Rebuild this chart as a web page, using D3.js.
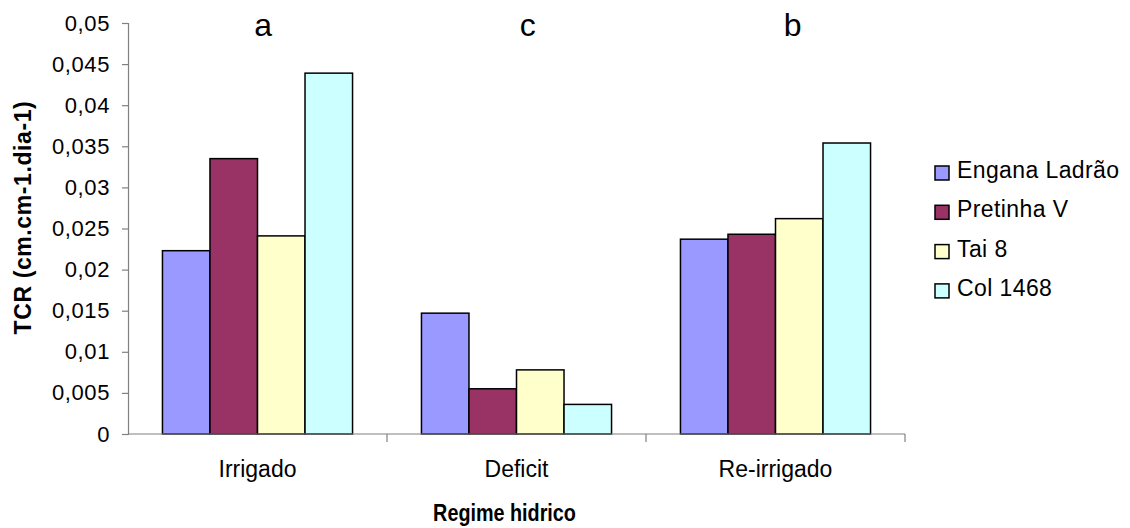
<!DOCTYPE html>
<html>
<head>
<meta charset="utf-8">
<script src="https://cdn.jsdelivr.net/npm/d3@7"></script>
<style>
  html, body { margin: 0; padding: 0; background: #fff; }
  svg { display: block; font-family: Arial, "Liberation Sans", sans-serif; }
</style>
</head>
<body>
<svg id="chart" width="1130" height="528"></svg>
<script>
// ---- data ----
const categories = ["Irrigado", "Deficit", "Re-irrigado"];
const seriesNames = ["Engana Ladrão", "Pretinha V", "Tai 8", "Col 1468"];
const englanaLadrao = [0.0223, 0.0147, 0.0237];
const pretinhaV     = [0.0335, 0.0055, 0.0243];
const tai8          = [0.0241, 0.0078, 0.0262];
const col1468       = [0.0439, 0.0036, 0.0354];
const groupLetters  = ["a", "c", "b"];
const yTicks = [0, 0.005, 0.01, 0.015, 0.02, 0.025, 0.03, 0.035, 0.04, 0.045, 0.05];
const seriesColors = ["#9999FF", "#993366", "#FFFFCC", "#CCFFFF"];

const seriesValues = [englanaLadrao, pretinhaV, tai8, col1468];

// ---- layout ----
const svg = d3.select("#chart");
const margin = { left: 128, right: 225, top: 23, bottom: 94 };
const W = 1130, H = 528;
const plotW = W - margin.left - margin.right;
const plotH = H - margin.top - margin.bottom;

const g = svg.append("g").attr("transform", `translate(${margin.left},${margin.top})`);

const y = d3.scaleLinear().domain([0, 0.05]).range([plotH, 0]);
const x0 = d3.scaleBand().domain(categories).range([0, plotW]).paddingInner(0).paddingOuter(0);
// Excel-like gap width (~145% of bar width)
const gapRatio = 1.45;
const barW = x0.bandwidth() / (seriesNames.length + gapRatio);
const gap = barW * gapRatio;
const x1 = d3.scaleBand().domain(seriesNames).range([gap / 2, x0.bandwidth() - gap / 2]).padding(0);

const fmt = d => String(+d.toFixed(3)).replace(".", ",");

// bars
const groups = g.selectAll("g.cat").data(categories).join("g")
  .attr("class", "cat")
  .attr("transform", d => `translate(${x0(d)},0)`);

groups.selectAll("rect").data((c, ci) => seriesNames.map((s, si) => ({ s, si, v: seriesValues[si][ci] })))
  .join("rect")
  .attr("x", d => x1(d.s))
  .attr("width", x1.bandwidth())
  .attr("y", d => y(d.v))
  .attr("height", d => y(0) - y(d.v))
  .attr("fill", d => seriesColors[d.si])
  .attr("stroke", "#000")
  .attr("stroke-width", 1.5);

// y axis
const yAxis = g.append("g")
  .call(d3.axisLeft(y).tickValues(yTicks).tickFormat(fmt).tickSize(6).tickPadding(12));
yAxis.select(".domain").attr("stroke", "#808080").attr("stroke-width", 1.2);
yAxis.selectAll(".tick line").attr("stroke", "#808080").attr("stroke-width", 1.2);
yAxis.selectAll(".tick text").attr("font-size", 22).attr("fill", "#000")
  .attr("font-family", "Arial, 'Liberation Sans', sans-serif").attr("letter-spacing", 0.6);

// x axis (ticks at category boundaries)
const xAxisG = g.append("g").attr("transform", `translate(0,${plotH})`);
xAxisG.append("line").attr("x1", 0).attr("x2", plotW).attr("y1", 0).attr("y2", 0)
  .attr("stroke", "#808080").attr("stroke-width", 1.2);
const boundaries = categories.map(c => x0(c)).concat([x0(categories[categories.length - 1]) + x0.bandwidth()]);
xAxisG.selectAll("line.bt").data(boundaries.slice(1)).join("line")
  .attr("class", "bt")
  .attr("x1", d => d).attr("x2", d => d).attr("y1", 0).attr("y2", 8)
  .attr("stroke", "#808080").attr("stroke-width", 1.2);
xAxisG.selectAll("text.cl").data(categories).join("text")
  .attr("class", "cl")
  .attr("x", d => x0(d) + x0.bandwidth() / 2)
  .attr("y", 43)
  .attr("text-anchor", "middle")
  .attr("font-size", 23)
  .text(d => d);

// group letters
g.selectAll("text.gl").data(categories).join("text")
  .attr("class", "gl")
  .attr("x", (d, i) => (x0(d) + x0.bandwidth() / 2 + margin.left) * 1.022 - margin.left)
  .attr("y", 13)
  .attr("text-anchor", "middle")
  .attr("font-size", 32)
  .text((d, i) => groupLetters[i]);

// axis titles
svg.append("text")
  .attr("transform", `translate(${margin.left + plotW / 2 - 12},521) scale(0.86,1)`)
  .attr("text-anchor", "middle")
  .attr("font-size", 23)
  .attr("font-weight", "bold")
  .text("Regime hidrico");

svg.append("text")
  .attr("transform", `translate(31,${margin.top + plotH / 2 - 11}) rotate(-90)`)
  .attr("text-anchor", "middle")
  .attr("font-size", 23)
  .attr("font-weight", "bold")
  .attr("letter-spacing", 0.6)
  .text("TCR (cm.cm-1.dia-1)");

// legend
const legend = svg.append("g").attr("transform", "translate(935,166)");
const li = legend.selectAll("g").data(seriesNames).join("g")
  .attr("transform", (d, i) => `translate(0,${i * 39.3})`);
li.append("rect").attr("width", 14).attr("height", 14)
  .attr("fill", (d, i) => seriesColors[i]).attr("stroke", "#000").attr("stroke-width", 1.5);
li.append("text").attr("x", 22).attr("y", 12)
  .attr("font-size", 23)
  .attr("letter-spacing", 0.4)
  .text(d => d);
</script>
</body>
</html>
